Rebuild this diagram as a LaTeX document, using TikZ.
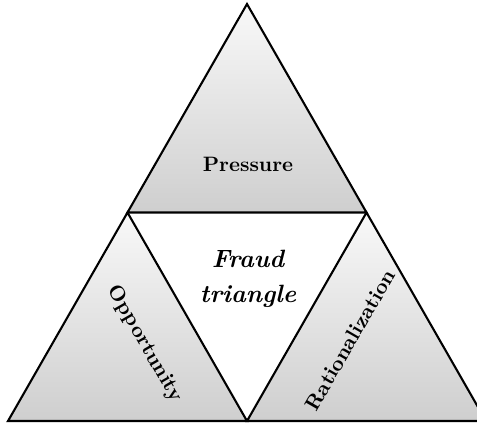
\documentclass[tikz,border=0pt]{standalone}
\begin{document}
\begin{tikzpicture}[x=0.48pt,y=-0.48pt,
  part/.style={draw=black, line width=1pt, line join=miter, top color=gray!5, bottom color=gray!38},
  lbl/.style={font=\bfseries, inner sep=0pt}]
\useasboundingbox (0,0) rectangle (477,424);
\clip (0,0) rectangle (477,424);
% outer corners and edge midpoints
\coordinate (top) at (247,4);
\coordinate (bl) at (8,421);
\coordinate (br) at (486,421);
\coordinate (ml) at (127.5,212.5);
\coordinate (mr) at (366.5,212.5);
\coordinate (mb) at (247,421);
% the three shaded corner triangles
\path[part] (top) -- (mr) -- (ml) -- cycle;
\path[part] (ml) -- (mb) -- (bl) -- cycle;
\path[part] (mr) -- (br) -- (mb) -- cycle;
% labels
\node[lbl] (pressure) at (248,164) {Pressure};
\node[lbl, rotate=-60] (opportunity) at (145,344) {Opportunity};
\node[lbl, rotate=60] (rationalization) at (350,340) {Rationalization};
\node[font=\large\bfseries\itshape, align=center, inner sep=0pt] (fraud) at (248,279) {Fraud\\[3pt]triangle};
\end{tikzpicture}
\end{document}
